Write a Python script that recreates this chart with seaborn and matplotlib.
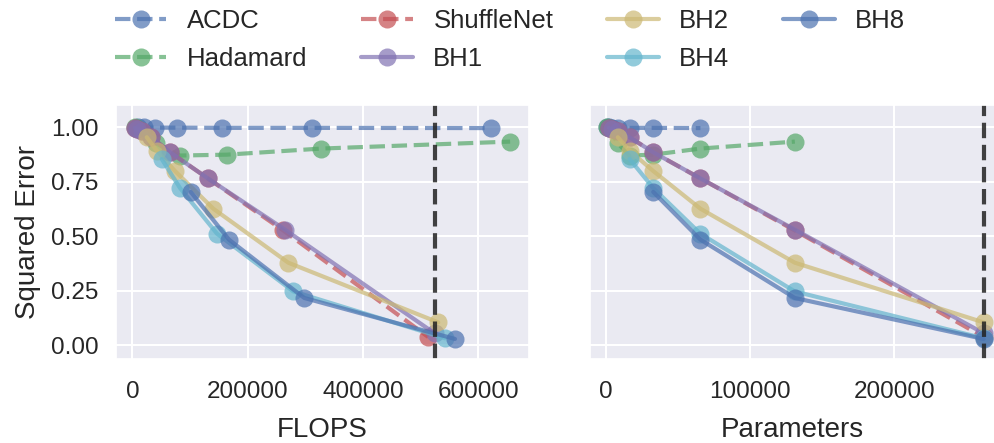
import matplotlib
matplotlib.use("Agg")
import matplotlib.pyplot as plt
import pandas as pd
import seaborn as sns

# Method names, in legend order
methods = ["ACDC", "Hadamard", "ShuffleNet", "BH1", "BH2", "BH4", "BH8"]
colors = ["#4C72B0", "#55A868", "#C44E52", "#8172B2", "#CCB974", "#64B5CD", "#4C72B0"]
dashed = ["ACDC", "Hadamard", "ShuffleNet"]

# Cost (FLOPS / parameters) and squared error for each method
acdc_flops = [9728, 19456, 38912, 77824, 155648, 311296, 622592]
acdc_params = [1024, 2048, 4096, 8192, 16384, 32768, 65536]
acdc_err = [1.0, 1.0, 0.999, 0.999, 0.998, 0.998, 0.997]

hadamard_flops = [5120, 40960, 81920, 163840, 327680, 655360]
hadamard_params = [1024, 8192, 16384, 32768, 65536, 131072]
hadamard_err = [1.0, 0.927, 0.871, 0.875, 0.903, 0.935]

shuffle_flops = [4096, 8192, 16384, 32768, 65536, 131072, 261900, 513300]
shuffle_params = [2048, 4096, 8192, 16384, 32768, 65536, 131072, 262144]
shuffle_err = [0.998, 0.992, 0.985, 0.955, 0.886, 0.766, 0.527, 0.038]

bh1_flops = [4096, 8192, 16384, 32768, 65536, 131072, 264700, 524288]
bh1_params = [2048, 4096, 8192, 16384, 32768, 65536, 131072, 262144]
bh1_err = [0.998, 0.992, 0.985, 0.955, 0.886, 0.766, 0.531, 0.055]

bh2_flops = [25000, 42300, 74000, 140500, 270600, 530800]
bh2_params = [8192, 16384, 32768, 65536, 131072, 262144]
bh2_err = [0.955, 0.894, 0.800, 0.627, 0.379, 0.105]

bh4_flops = [51000, 82700, 147000, 279400, 542400]
bh4_params = [16384, 32768, 65536, 131072, 262144]
bh4_err = [0.855, 0.722, 0.512, 0.247, 0.032]

bh8_flops = [101300, 167700, 298400, 559700]
bh8_params = [32768, 65536, 131072, 262144]
bh8_err = [0.704, 0.485, 0.217, 0.029]

flops = [acdc_flops, hadamard_flops, shuffle_flops, bh1_flops, bh2_flops, bh4_flops, bh8_flops]
params = [acdc_params, hadamard_params, shuffle_params, bh1_params, bh2_params, bh4_params, bh8_params]
errors = [acdc_err, hadamard_err, shuffle_err, bh1_err, bh2_err, bh4_err, bh8_err]

dense_flops = 524288
dense_params = 262144

rows = []
for m, f, p, e in zip(methods, flops, params, errors):
    for fi, pi, ei in zip(f, p, e):
        rows.append({"method": m, "FLOPS": fi, "Parameters": pi, "err": ei})
df = pd.DataFrame(rows)

sns.set_theme(style="darkgrid")
plt.rcParams["font.family"] = ["Liberation Sans", "DejaVu Sans"]
plt.rcParams["grid.linewidth"] = 1.5

fig = plt.figure(figsize=(9.95, 4.43), dpi=100)
ax1 = fig.add_axes([116 / 995, 84 / 443, 413 / 995, 254 / 443])
ax2 = fig.add_axes([590 / 995, 84 / 443, 405 / 995, 254 / 443], sharey=ax1)

for ax, xcol in [(ax1, "FLOPS"), (ax2, "Parameters")]:
    for m, c in zip(methods, colors):
        sub = df[df["method"] == m]
        sns.lineplot(data=sub, x=xcol, y="err", ax=ax, sort=False, color=c,
                     marker="o", markersize=13, markeredgewidth=0, lw=3,
                     alpha=0.7, linestyle="--" if m in dashed else "-",
                     label=m, legend=False)
    ax.set_xlabel(xcol, fontsize=20, labelpad=10)
    ax.tick_params(axis="x", labelsize=17.5, length=0, pad=16)
    ax.tick_params(axis="y", labelsize=17.5, length=0, pad=12.5)

ax1.axvline(dense_flops, color="#222222", ls="--", lw=3, alpha=0.85)
ax2.axvline(dense_params, color="#222222", ls="--", lw=3, alpha=0.85)

ax1.set_xlim(-28300, 688100)
ax2.set_xlim(-11100, 270000)
ax1.set_ylim(-0.063, 1.103)
ax1.set_yticks([0, 0.25, 0.5, 0.75, 1.0])
ax1.set_xticks([0, 200000, 400000, 600000])
ax2.set_xticks([0, 100000, 200000])
ax1.set_ylabel("Squared Error", fontsize=20, labelpad=7)
ax2.set_ylabel("")
plt.setp(ax2.get_yticklabels(), visible=False)

handles, labels = ax1.get_legend_handles_labels()
fig.legend(handles, labels, loc="upper left", bbox_to_anchor=(115 / 995, 0.979),
           ncol=4, frameon=False, fontsize=18.5, handlelength=2.0,
           handletextpad=0.8, columnspacing=2.1, borderpad=0, borderaxespad=0,
           labelspacing=0.53)

fig.savefig("out.png", dpi=100)
